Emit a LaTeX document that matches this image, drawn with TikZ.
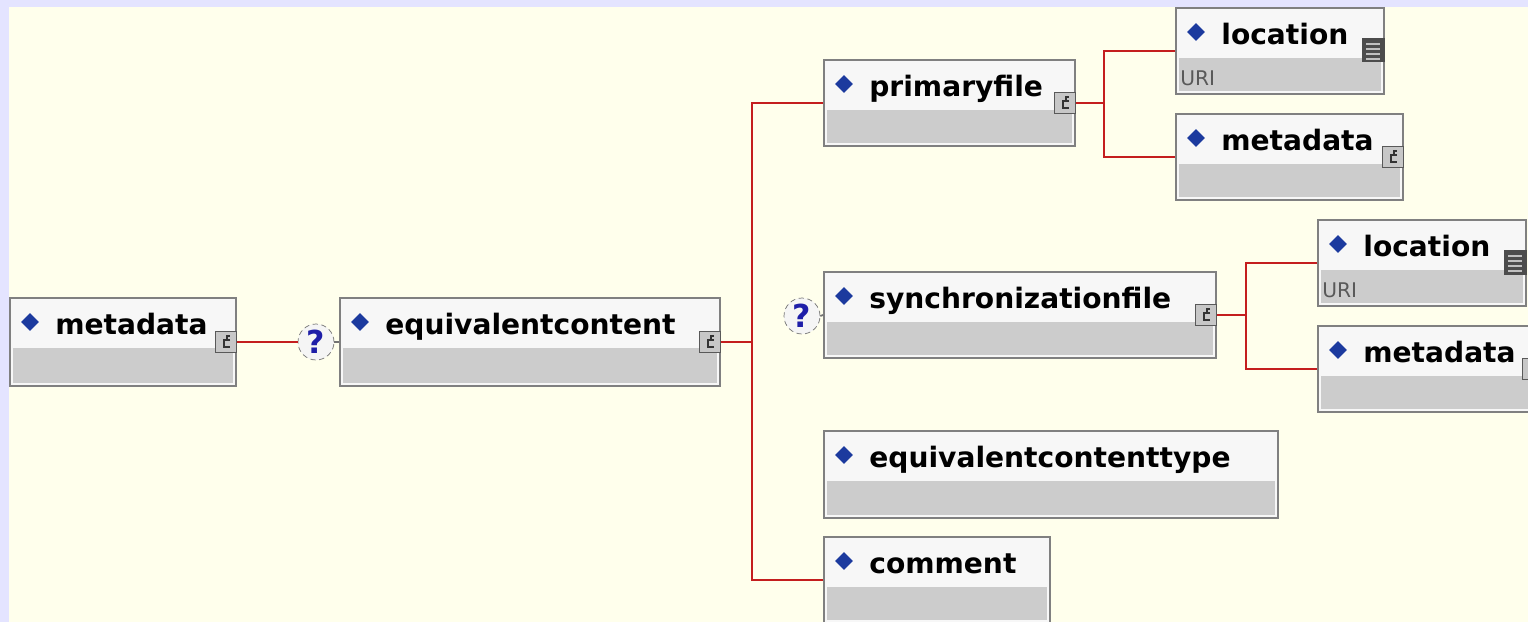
\documentclass[tikz,border=0pt]{standalone}
\usepackage{fontspec}
\setmainfont{DejaVu Sans}
\usetikzlibrary{shapes.geometric}

\definecolor{framebg}{HTML}{E4E4FF}
\definecolor{panelbg}{HTML}{FFFFEC}
\definecolor{boxline}{HTML}{808080}
\definecolor{headfill}{HTML}{F7F7F7}
\definecolor{bodyfill}{HTML}{CCCCCC}
\definecolor{linkred}{HTML}{C41E1E}
\definecolor{diamblue}{HTML}{1C3A9E}
\definecolor{qblue}{HTML}{1E1EA8}

\tikzset{
  elembox/.style={draw=boxline, line width=1.1pt, fill=headfill, rectangle, inner sep=0pt},
  elemtext/.style={font=\bfseries\fontsize{16}{18}\selectfont, inner sep=0pt, anchor=base west},
  typetext/.style={font=\fontsize{11.5}{13}\selectfont, text=black!65, inner sep=0pt, anchor=base west},
  bullet/.style={diamond, fill=diamblue, inner sep=0pt, minimum size=0.36cm},
  seqicon/.style={draw=black!65, fill=black!22, line width=0.8pt, minimum size=0.42cm, inner sep=0pt},
  listicon/.style={fill=black!70, minimum width=0.46cm, minimum height=0.5cm, inner sep=0pt},
  optmark/.style={circle, draw=black!55, densely dashed, fill=black!4, minimum size=0.72cm,
    inner sep=0pt, font=\bfseries\fontsize{18}{18}\selectfont, text=qblue},
  link/.style={draw=linkred, line width=1.1pt},
  stub/.style={draw=black!55, line width=1pt},
}

% element box: name, left, top, right, bottom, label
\newcommand{\elem}[6]{%
  \node[elembox, minimum width={(#4-#2)*0.02cm}, minimum height={(#5-#3)*0.02cm}] (#1) at ({(#2+#4)/2},{(#3+#5)/2}) {};
  \fill[bodyfill] ({#2+3},{#3+50}) rectangle ({#4-3},{#5-3});
  \node[bullet] (#1-b) at ({#2+20},{#3+24}) {};
  \node[elemtext] (#1-t) at ({#2+45},{#3+36}) {#6};
}
% sequence icon: name, right edge, y
\newcommand{\seqmark}[3]{%
  \node[seqicon] (#1) at ({#2-10},{#3}) {};
  \draw[black!80, line width=0.7pt] ([shift={(4,-2)}]#1.center) -- ([shift={(-2,-2)}]#1.center)
    -- ([shift={(-2,5)}]#1.center) -- ([shift={(4,5)}]#1.center)
    ([shift={(1,-2)}]#1.center) -- ([shift={(1,-6)}]#1.center) -- ([shift={(4,-6)}]#1.center);
}
% simple content icon: name, right edge, y
\newcommand{\listmark}[3]{%
  \node[listicon] (#1) at ({#2-11},{#3}) {};
  \foreach \dy in {-6,-1,4,9}
    \draw[black!25, line width=0.9pt] ([shift={(-7,\dy)}]#1.center) -- ([shift={(7,\dy)}]#1.center);
}

\begin{document}
\begin{tikzpicture}[x=0.02cm, y=-0.02cm]
  \useasboundingbox (0,0) rectangle (1528,622);
  \clip (0,0) rectangle (1528,622);
  \fill[framebg] (0,0) rectangle (1528,622);
  \fill[panelbg] (9,7) rectangle (1528,622);

  \elem{root}{10}{298}{236}{386}{metadata}
  \elem{ec}{340}{298}{720}{386}{equivalentcontent}
  \elem{pf}{824}{60}{1075}{146}{primaryfile}
  \elem{loc1}{1176}{8}{1384}{94}{location}
  \elem{meta1}{1176}{114}{1403}{200}{metadata}
  \elem{sync}{824}{272}{1216}{358}{synchronizationfile}
  \elem{loc2}{1318}{220}{1526}{306}{location}
  \elem{meta2}{1318}{326}{1543}{412}{metadata}
  \elem{ectype}{824}{431}{1278}{518}{equivalentcontenttype}
  \elem{comment}{824}{537}{1050}{623}{comment}

  \node[typetext] (loc1-u) at (1180,85) {URI};
  \node[typetext] (loc2-u) at (1322,297) {URI};

  \seqmark{root-i}{236}{342}
  \seqmark{ec-i}{720}{342}
  \seqmark{pf-i}{1075}{103}
  \seqmark{meta1-i}{1403}{157}
  \seqmark{sync-i}{1216}{315}
  \seqmark{meta2-i}{1543}{369}
  \listmark{loc1-i}{1384}{50}
  \listmark{loc2-i}{1526}{262}

  \node[optmark] (q1) at (316,342) {?};
  \node[optmark] (q2) at (802,316) {?};

  \coordinate (bus1) at (752,342);
  \coordinate (bus2) at (1104,103);
  \coordinate (bus3) at (1246,315);

  \draw[link] (root-i.east) -- (q1.west);
  \draw[stub] (q1.east) -- (ec.west);
  \draw[link] (ec-i.east) -- (bus1);
  \draw[link] (pf.west) -| (bus1) |- (comment.west);
  \draw[stub] (q2.east) -- (sync.west);
  \draw[link] (pf-i.east) -- (bus2);
  \draw[link] (loc1.west) -| (bus2) |- (meta1.west);
  \draw[link] (sync-i.east) -- (bus3);
  \draw[link] (loc2.west) -| (bus3) |- (meta2.west);
\end{tikzpicture}
\end{document}
